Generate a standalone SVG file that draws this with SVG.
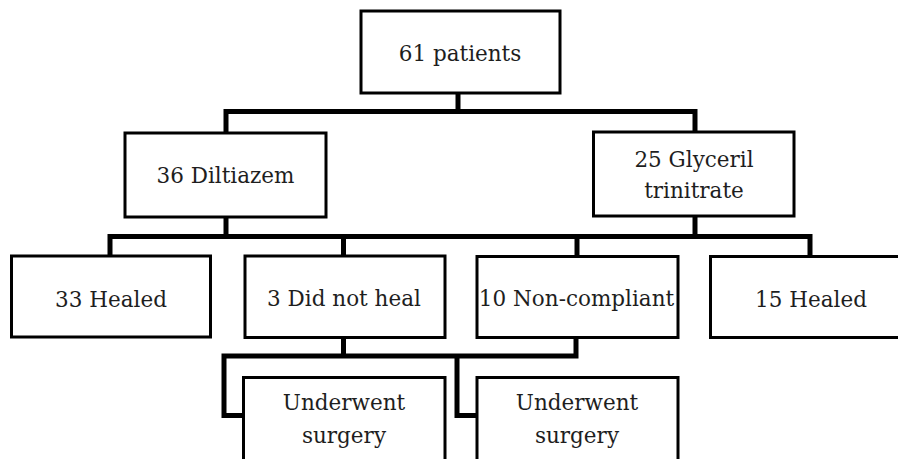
<svg xmlns="http://www.w3.org/2000/svg" width="898" height="459" viewBox="0 0 898 459">
<style>
.box{fill:#fff;stroke:#000;stroke-width:3}
text{font-family:"DejaVu Serif",serif;font-size:21.5px;fill:#1e1e1e;text-anchor:middle}
.conn{fill:none;stroke:#000;stroke-width:5;stroke-linejoin:miter;stroke-linecap:butt}
</style>
<rect x="0" y="0" width="898" height="459" fill="#fff"/>
<g id="connectors" class="conn">
<path d="M458,93 V111.5"/>
<path d="M226,133 V111.5 H695 V132"/>
<path d="M226,217 V236.5"/>
<path d="M695,216 V236.5"/>
<path d="M110,256 V236.5 H810 V256"/>
<path d="M343.5,236.5 V256"/>
<path d="M577,236.5 V256"/>
<path d="M343.5,337.5 V356"/>
<path d="M576,337.5 V356 H224 V415.5 H243.5"/>
<path d="M457,356 V415.5 H477"/>
</g>
<g id="n-patients"><rect class="box" x="361" y="11" width="199" height="82"/><text x="460" y="61">61 patients</text></g>
<g id="n-diltiazem"><rect class="box" x="125" y="133" width="201" height="84"/><text x="225.5" y="183">36 Diltiazem</text></g>
<g id="n-glyceril"><rect class="box" x="593.5" y="132" width="200.5" height="84"/><text x="694" y="167">25 Glyceril</text><text x="694" y="198">trinitrate</text></g>
<g id="n-healed33"><rect class="box" x="11.5" y="256" width="199" height="81"/><text x="111" y="306.5">33 Healed</text></g>
<g id="n-notheal"><rect class="box" x="245" y="256" width="200" height="81.5"/><text x="344" y="306">3 Did not heal</text></g>
<g id="n-noncompliant"><rect class="box" x="477" y="256.5" width="201" height="81"/><text x="576.5" y="306">10 Non-compliant</text></g>
<g id="n-healed15"><rect class="box" x="710.5" y="256.5" width="200" height="81"/><text x="811" y="306.5">15 Healed</text></g>
<g id="n-surgery1"><rect class="box" x="243.5" y="377.5" width="201.5" height="100"/><text x="344" y="410">Underwent</text><text x="344" y="443">surgery</text></g>
<g id="n-surgery2"><rect class="box" x="477" y="377.5" width="201" height="100"/><text x="577" y="410">Underwent</text><text x="577" y="443">surgery</text></g>
</svg>
